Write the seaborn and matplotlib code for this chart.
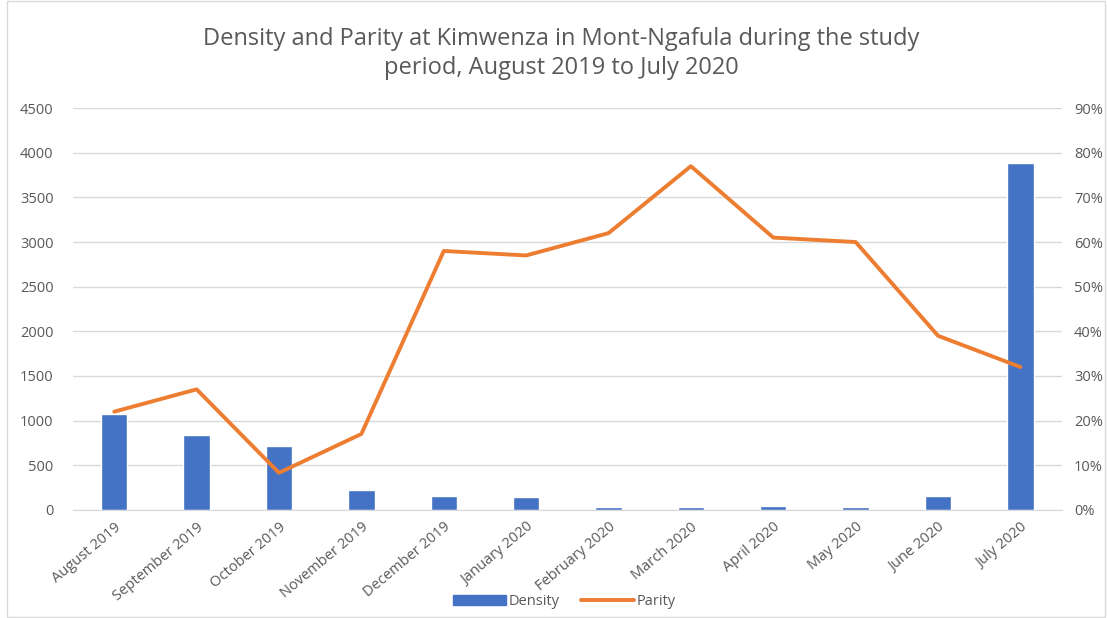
import matplotlib.pyplot as plt
import numpy as np
import pandas as pd
import seaborn as sns
from matplotlib.lines import Line2D
from matplotlib.patches import Patch, Rectangle
from matplotlib.ticker import FuncFormatter

months = ["August 2019", "September 2019", "October 2019", "November 2019",
          "December 2019", "January 2020", "February 2020", "March 2020",
          "April 2020", "May 2020", "June 2020", "July 2020"]
density = [1070, 840, 710, 220, 150, 140, 30, 30, 45, 30, 150, 3880]
parity = [0.22, 0.27, 0.083, 0.17, 0.58, 0.57, 0.62, 0.77, 0.61, 0.60, 0.39, 0.32]

BLUE = "#4472c4"
ORANGE = "#ed7d31"
GREY = "#595959"

sns.set_style("white")
plt.rcParams["font.family"] = ["Open Sans", "DejaVu Sans"]

df = pd.DataFrame({"month": months, "density": density, "parity": parity})

fig = plt.figure(figsize=(11.07, 6.18), dpi=100)
ax = fig.add_axes([0.066, 0.175, 0.893, 0.65])

sns.barplot(data=df, x="month", y="density", color=BLUE, width=0.32,
            saturation=1, ax=ax, zorder=2)
ax.set_ylim(0, 4500)
ax.set_yticks(range(0, 4501, 500))
ax.grid(axis="y", color="#d9d9d9", lw=1, zorder=0)
ax.set_xlabel("")
ax.set_ylabel("")
for s in ["top", "right", "left"]:
    ax.spines[s].set_visible(False)
ax.spines["bottom"].set_color("#d9d9d9")
ax.tick_params(axis="both", length=0, colors=GREY, labelsize=10.5)
ax.tick_params(axis="y", pad=14)
ax.tick_params(axis="x", pad=7)
plt.setp(ax.get_xticklabels(), rotation=40, ha="right", rotation_mode="anchor")

ax2 = ax.twinx()
sns.lineplot(x=np.arange(len(months)), y=parity, color=ORANGE, lw=2.8, ax=ax2)
ax2.set_ylim(0, 0.9)
ax2.set_yticks(np.arange(0, 0.91, 0.1))
ax2.yaxis.set_major_formatter(FuncFormatter(lambda v, p: f"{v*100:.0f}%"))
ax2.tick_params(axis="y", length=0, colors=GREY, labelsize=10.5, pad=9)
for s in ax2.spines.values():
    s.set_visible(False)
ax.set_xlim(-0.5, len(months) - 0.5)

fig.suptitle("Density and Parity at Kimwenza in Mont-Ngafula during the study\nperiod, August 2019 to July 2020",
             x=0.507, y=0.957, fontsize=17, color=GREY, linespacing=1.3)

handles = [Patch(color=BLUE, label="Density"),
           Line2D([], [], color=ORANGE, lw=2.8, label="Parity")]
fig.legend(handles=handles, loc="center", bbox_to_anchor=(0.51, 0.027), ncol=2,
           frameon=False, fontsize=10.5, labelcolor=GREY, handlelength=3.6,
           handletextpad=0.2, columnspacing=1.5)

fig.patches.append(Rectangle((0.006, 0.002), 0.992, 0.996, transform=fig.transFigure,
                             fill=False, edgecolor="#d9d9d9", lw=1))

fig.savefig("out.png", dpi=100)
